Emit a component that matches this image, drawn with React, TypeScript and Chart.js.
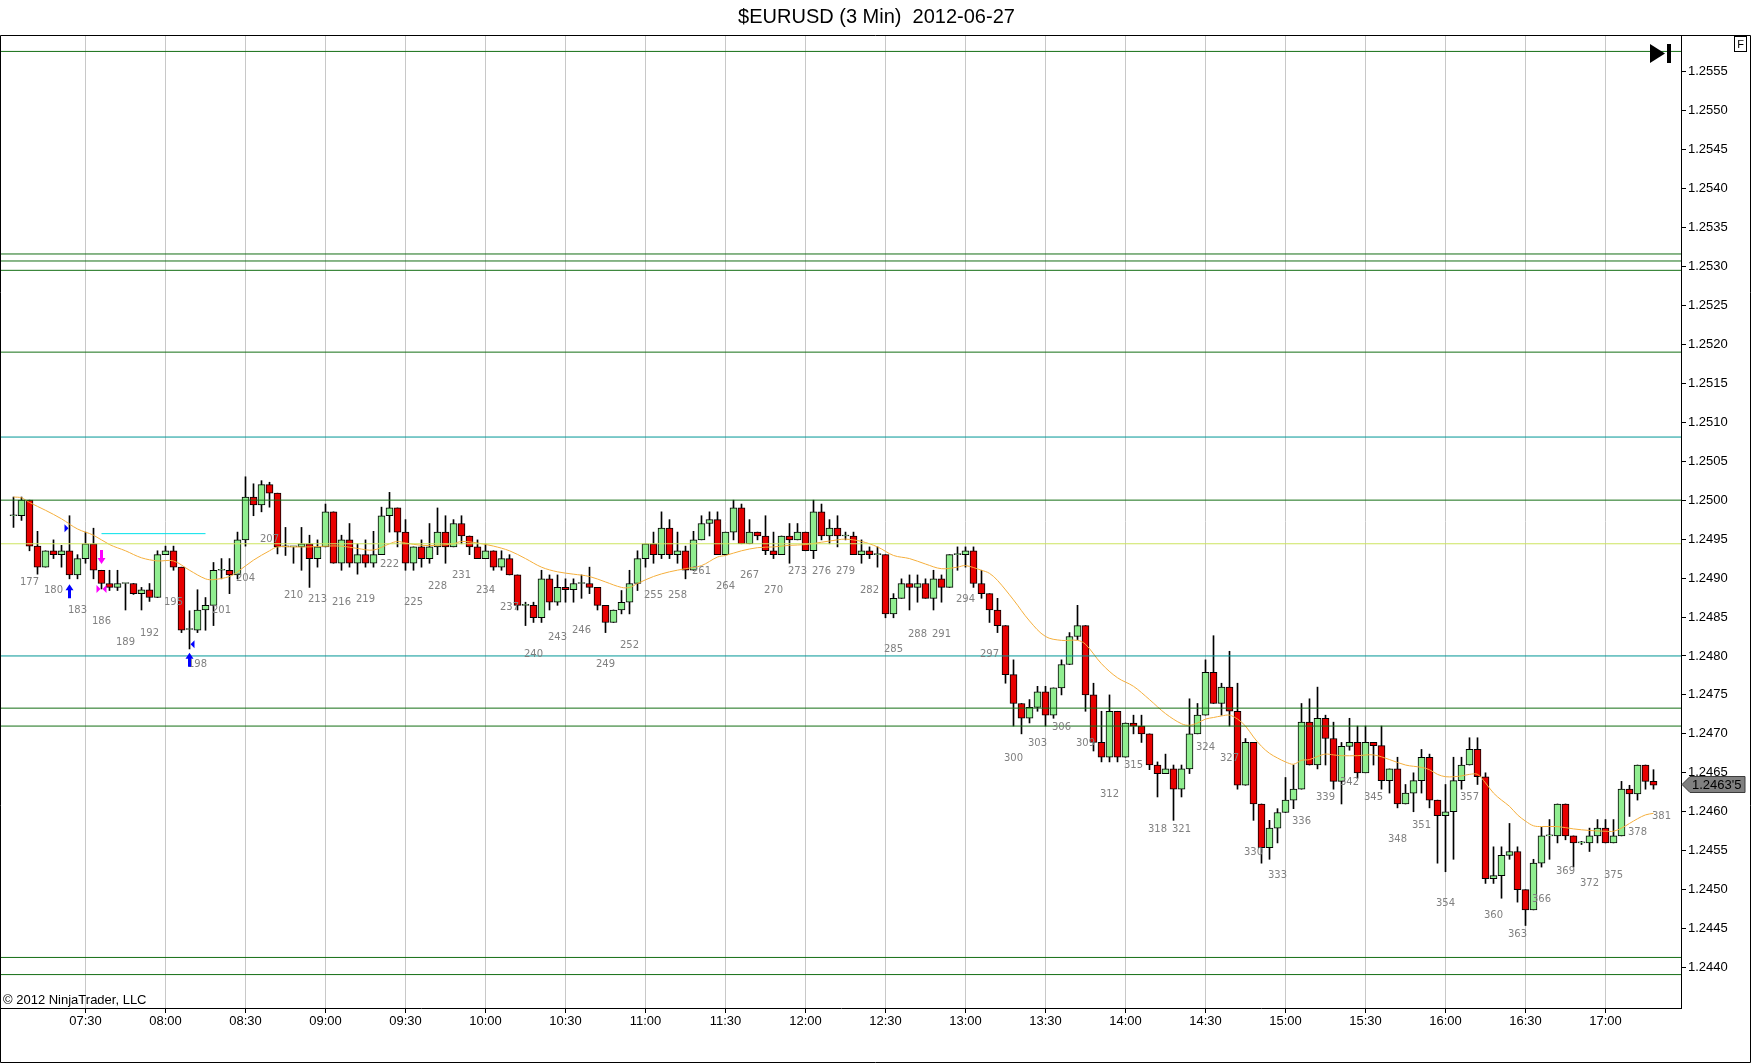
import React, { useEffect, useRef } from 'react';
import { Chart, registerables } from 'chart.js';

Chart.register(...registerables);

// ---------------- DATA ----------------
const FIRST_BAR = 175;

const opens = [
  1.2498, 1.2498, 1.25, 1.24941, 1.24914, 1.24935, 1.2493, 1.24935, 1.24904, 1.24925,
  1.24944, 1.2491, 1.24893, 1.24888, 1.24893, 1.24893, 1.2488, 1.24885, 1.24875, 1.2493,
  1.24935, 1.24914, 1.24834, 1.24833, 1.24859, 1.24865, 1.2491, 1.2491, 1.24904, 1.24949,
  1.25004, 1.24994, 1.2502, 1.25009, 1.2494, 1.2494, 1.2494, 1.24944, 1.24925, 1.2494,
  1.24985, 1.24919, 1.24949, 1.24919, 1.2493, 1.24919, 1.2493, 1.2498, 1.2499, 1.24959,
  1.24919, 1.2494, 1.24925, 1.2494, 1.24959, 1.2494, 1.2497, 1.24954, 1.2494, 1.24925,
  1.24935, 1.24914, 1.24925, 1.24904, 1.24865, 1.24865, 1.24849, 1.24899, 1.24869, 1.24888,
  1.24885, 1.24893, 1.24893, 1.24888, 1.24865, 1.24843, 1.24859, 1.24869, 1.24893, 1.24925,
  1.24944, 1.2493, 1.24964, 1.2493, 1.24935, 1.2491, 1.24949, 1.2497, 1.24975, 1.2493,
  1.24959, 1.2499, 1.24944, 1.24959, 1.24954, 1.24935, 1.2493, 1.24954, 1.24949, 1.24959,
  1.24935, 1.24985, 1.24954, 1.24964, 1.24954, 1.24954, 1.2493, 1.24935, 1.2493, 1.2493,
  1.24854, 1.24874, 1.24893, 1.24888, 1.24893, 1.24874, 1.24899, 1.24888, 1.2493, 1.2493,
  1.24935, 1.24893, 1.2488, 1.24859, 1.24839, 1.24776, 1.24739, 1.2472, 1.24734, 1.24754,
  1.24724, 1.24759, 1.24789, 1.24825, 1.24839, 1.2475, 1.24689, 1.2467, 1.24729, 1.2467,
  1.24714, 1.2471, 1.247, 1.2466, 1.24649, 1.24655, 1.24629, 1.24655, 1.247, 1.24724,
  1.24779, 1.24739, 1.2476, 1.24729, 1.24634, 1.24689, 1.2461, 1.24554, 1.24579, 1.24599,
  1.24615, 1.24629, 1.24715, 1.2466, 1.2472, 1.24694, 1.24639, 1.24684, 1.24689, 1.2465,
  1.24689, 1.24685, 1.2464, 1.24655, 1.2461, 1.24624, 1.2464, 1.2467, 1.24615, 1.24595,
  1.246, 1.2464, 1.2466, 1.2468, 1.24645, 1.24514, 1.24518, 1.24544, 1.24549, 1.245,
  1.24474, 1.24534, 1.24569, 1.24569, 1.2461, 1.24569, 1.2456, 1.2456, 1.24569, 1.24579,
  1.2456, 1.24569, 1.24629, 1.24623, 1.2466, 1.24639,
];
const highs = [
  1.25004, 1.25004, 1.25, 1.2496, 1.24935, 1.24949, 1.24942, 1.2498, 1.2493, 1.24959,
  1.24964, 1.2491, 1.2491, 1.2491, 1.24893, 1.24893, 1.24888, 1.24893, 1.24935, 1.24941,
  1.24941, 1.24914, 1.24858, 1.24885, 1.24875, 1.2492, 1.24925, 1.24925, 1.24959, 1.2503,
  1.25021, 1.25025, 1.25023, 1.25009, 1.24965, 1.2494, 1.24965, 1.24955, 1.24949, 1.24995,
  1.24985, 1.24955, 1.2497, 1.24944, 1.24949, 1.2496, 1.24991, 1.2501, 1.2499, 1.24975,
  1.2494, 1.24949, 1.2497, 1.2499, 1.2498, 1.24975, 1.2498, 1.24954, 1.24949, 1.24944,
  1.24935, 1.24935, 1.2493, 1.24904, 1.24869, 1.24869, 1.2491, 1.24904, 1.24904, 1.24899,
  1.24899, 1.24904, 1.24914, 1.24888, 1.24865, 1.24859, 1.24884, 1.2491, 1.24935, 1.24944,
  1.24959, 1.24985, 1.24975, 1.24959, 1.24941, 1.2496, 1.2498, 1.24985, 1.24985, 1.24959,
  1.25, 1.24995, 1.24975, 1.24959, 1.2498, 1.24959, 1.24954, 1.2497, 1.2497, 1.24959,
  1.25, 1.24995, 1.24975, 1.2498, 1.24959, 1.24959, 1.24949, 1.2494, 1.2494, 1.2493,
  1.2488, 1.24899, 1.24904, 1.24904, 1.24899, 1.2491, 1.24904, 1.2493, 1.2494, 1.2494,
  1.2494, 1.2491, 1.2488, 1.24874, 1.24839, 1.24795, 1.24739, 1.24744, 1.24761, 1.24761,
  1.24759, 1.24795, 1.2483, 1.24865, 1.24839, 1.24765, 1.24729, 1.2475, 1.24729, 1.24714,
  1.24724, 1.24724, 1.247, 1.24664, 1.24674, 1.2466, 1.2466, 1.24745, 1.24739, 1.24795,
  1.24826, 1.24765, 1.24806, 1.24765, 1.24694, 1.24689, 1.2461, 1.24589, 1.24604, 1.24644,
  1.2466, 1.24739, 1.24745, 1.2476, 1.24724, 1.24715, 1.24689, 1.2472, 1.2471, 1.2471,
  1.24689, 1.2471, 1.24655, 1.2467, 1.24635, 1.2465, 1.2468, 1.24674, 1.24615, 1.24635,
  1.2467, 1.2467, 1.24695, 1.24695, 1.2465, 1.24555, 1.24555, 1.24585, 1.24555, 1.245,
  1.24539, 1.2458, 1.2459, 1.2461, 1.2461, 1.24569, 1.24562, 1.24579, 1.2459, 1.2459,
  1.2459, 1.24639, 1.24634, 1.2466, 1.2466, 1.24654,
];
const lows = [
  1.24965, 1.24974, 1.24935, 1.24905, 1.24914, 1.24925, 1.24914, 1.24899, 1.24899, 1.24919,
  1.24899, 1.24886, 1.24884, 1.24884, 1.24859, 1.24879, 1.24859, 1.2487, 1.24875, 1.2493,
  1.2491, 1.2483, 1.24809, 1.2483, 1.24833, 1.24839, 1.24899, 1.2488, 1.24899, 1.24941,
  1.2498, 1.24985, 1.24991, 1.24931, 1.24929, 1.24919, 1.2491, 1.24888, 1.24914, 1.2494,
  1.24919, 1.2491, 1.24914, 1.24905, 1.24914, 1.24914, 1.2493, 1.24959, 1.2494, 1.2491,
  1.2491, 1.24914, 1.24919, 1.2493, 1.24919, 1.2494, 1.24944, 1.2493, 1.24925, 1.24925,
  1.2491, 1.2491, 1.24904, 1.24859, 1.24839, 1.24843, 1.24843, 1.24859, 1.24865, 1.24869,
  1.24869, 1.24874, 1.2488, 1.24859, 1.2483, 1.24843, 1.24854, 1.24854, 1.24884, 1.24914,
  1.24919, 1.24925, 1.24925, 1.24919, 1.24899, 1.2491, 1.24949, 1.24954, 1.2493, 1.2493,
  1.24949, 1.24944, 1.24944, 1.24949, 1.2493, 1.24925, 1.2493, 1.24919, 1.24949, 1.24935,
  1.24925, 1.24949, 1.24944, 1.2494, 1.24949, 1.2493, 1.24919, 1.24925, 1.24914, 1.24849,
  1.24849, 1.24874, 1.24859, 1.24869, 1.24874, 1.24859, 1.24869, 1.24888, 1.2491, 1.24914,
  1.24888, 1.24874, 1.24843, 1.2483, 1.24765, 1.2471, 1.247, 1.24714, 1.24729, 1.2471,
  1.2472, 1.2475, 1.24789, 1.24821, 1.24729, 1.24678, 1.24664, 1.24664, 1.24664, 1.2467,
  1.247, 1.24689, 1.24654, 1.24619, 1.24649, 1.24589, 1.24619, 1.24649, 1.247, 1.24724,
  1.24739, 1.24724, 1.2471, 1.24629, 1.24634, 1.24589, 1.24534, 1.24539, 1.2456, 1.24599,
  1.24604, 1.24629, 1.2466, 1.24655, 1.2466, 1.24629, 1.2461, 1.24679, 1.24643, 1.2465,
  1.2466, 1.24629, 1.24624, 1.24605, 1.2461, 1.246, 1.24624, 1.24605, 1.24534, 1.24523,
  1.24539, 1.24629, 1.2466, 1.24635, 1.24508, 1.24508, 1.24489, 1.24539, 1.24484, 1.24454,
  1.24474, 1.24529, 1.24539, 1.2456, 1.24564, 1.24529, 1.24558, 1.24549, 1.2456, 1.2456,
  1.2456, 1.24569, 1.24594, 1.24615, 1.24629, 1.24629,
];
const closes = [
  1.24981, 1.25, 1.24941, 1.24914, 1.24935, 1.2493, 1.24935, 1.24904, 1.24925, 1.24944,
  1.2491, 1.24893, 1.24888, 1.24893, 1.24893, 1.2488, 1.24885, 1.24875, 1.2493, 1.24935,
  1.24914, 1.24833, 1.24834, 1.24859, 1.24865, 1.2491, 1.2491, 1.24904, 1.24949, 1.25004,
  1.24994, 1.2502, 1.25009, 1.2494, 1.2494, 1.2494, 1.24944, 1.24925, 1.2494, 1.24985,
  1.24919, 1.24949, 1.24919, 1.2493, 1.24919, 1.2493, 1.2498, 1.2499, 1.24959, 1.24919,
  1.2494, 1.24925, 1.2494, 1.24959, 1.2494, 1.2497, 1.24954, 1.2494, 1.24925, 1.24935,
  1.24914, 1.24925, 1.24904, 1.24865, 1.24865, 1.24849, 1.24899, 1.24869, 1.24888, 1.24885,
  1.24893, 1.24893, 1.24888, 1.24865, 1.24843, 1.24859, 1.24869, 1.24893, 1.24925, 1.24944,
  1.2493, 1.24964, 1.2493, 1.24935, 1.2491, 1.24949, 1.2497, 1.24975, 1.2493, 1.24959,
  1.2499, 1.24944, 1.24959, 1.24954, 1.24935, 1.2493, 1.24954, 1.24949, 1.24959, 1.24935,
  1.24985, 1.24954, 1.24964, 1.24954, 1.24954, 1.2493, 1.24935, 1.2493, 1.2493, 1.24854,
  1.24874, 1.24893, 1.24888, 1.24893, 1.24874, 1.24899, 1.24888, 1.2493, 1.2493, 1.24935,
  1.24893, 1.2488, 1.24859, 1.24839, 1.24776, 1.24739, 1.2472, 1.24734, 1.24754, 1.24724,
  1.24759, 1.24789, 1.24825, 1.24839, 1.2475, 1.24689, 1.2467, 1.24729, 1.2467, 1.24714,
  1.2471, 1.247, 1.2466, 1.24649, 1.24655, 1.24629, 1.24655, 1.247, 1.24724, 1.24779,
  1.24739, 1.2476, 1.24729, 1.24634, 1.24689, 1.2461, 1.24554, 1.24579, 1.24599, 1.24615,
  1.24629, 1.24715, 1.2466, 1.2472, 1.24694, 1.24639, 1.24684, 1.24689, 1.2465, 1.24689,
  1.24685, 1.2464, 1.24655, 1.2461, 1.24624, 1.2464, 1.2467, 1.24615, 1.24595, 1.246,
  1.2464, 1.2466, 1.2468, 1.24645, 1.24514, 1.24518, 1.24544, 1.24549, 1.245, 1.24474,
  1.24534, 1.24569, 1.24569, 1.2461, 1.24569, 1.2456, 1.2456, 1.24569, 1.24579, 1.2456,
  1.24569, 1.24629, 1.24623, 1.2466, 1.24639, 1.24634,
];

const LAST_PRICE = 1.24635;
const LAST_PRICE_TEXT = "1.2463'5";
const LAST_LABEL_BAR = 381;

const timeBars = [184, 194, 204, 214, 224, 234, 244, 254, 264, 274, 284, 294, 304, 314, 324, 334, 344, 354, 364, 374];
const timeLabels = ['07:30', '08:00', '08:30', '09:00', '09:30', '10:00', '10:30', '11:00', '11:30', '12:00',
  '12:30', '13:00', '13:30', '14:00', '14:30', '15:00', '15:30', '16:00', '16:30', '17:00'];

const priceTicks = [1.244, 1.2445, 1.245, 1.2455, 1.246, 1.2465, 1.247, 1.2475, 1.248, 1.2485, 1.249, 1.2495,
  1.25, 1.2505, 1.251, 1.2515, 1.252, 1.2525, 1.253, 1.2535, 1.254, 1.2545, 1.255, 1.2555];

const greenLevels = [1.25576, 1.25316, 1.25307, 1.25295, 1.2519, 1.25, 1.24733, 1.2471, 1.24413, 1.24391];
const tealLevels = [1.25081, 1.248];
const yellowLevels = [1.24944];
const shortLineBars = [186, 199];
const shortLinePrice = 1.24957;

const maBars = [175, 176, 177, 179, 181, 183, 185, 187, 189, 191, 193, 195, 197, 199, 200, 202, 203, 205, 207, 208,
  210, 212, 214, 216, 218, 220, 222, 223, 224, 226, 228, 230, 231, 233, 235, 237, 239, 241, 243, 245,
  247, 249, 251, 252, 253, 255, 257, 259, 261, 263, 264, 266, 268, 270, 272, 274, 276, 278, 279, 281,
  283, 285, 287, 289, 291, 293, 294, 296, 297, 298, 300, 302, 304, 306, 308, 309, 311, 313, 315, 317,
  319, 321, 322, 323, 324, 325, 326, 327, 328, 329, 330, 331, 332, 333, 334, 335, 336, 337, 338, 339,
  340, 341, 343, 345, 347, 349, 351, 352, 353, 354, 355, 356, 357, 358, 359, 360, 361, 362, 363, 364,
  365, 366, 368, 370, 372, 374, 375, 376, 377, 378, 379, 380];
const maVals = [1.25004, 1.25003, 1.24997, 1.24987, 1.24976, 1.24963, 1.24955, 1.24943, 1.24935, 1.24926,
  1.24922, 1.24922, 1.2491, 1.24899, 1.24898, 1.24902, 1.24908, 1.24923, 1.24935, 1.2494,
  1.2494, 1.2494, 1.24941, 1.24941, 1.24938, 1.24936, 1.24944, 1.24947, 1.24945, 1.24942,
  1.24942, 1.24944, 1.24947, 1.24945, 1.24941, 1.24935, 1.24925, 1.24914, 1.24908, 1.24905,
  1.24902, 1.24895, 1.24888, 1.24888, 1.24893, 1.24902, 1.24908, 1.24912, 1.24916, 1.24927,
  1.24929, 1.24935, 1.24939, 1.2494, 1.24942, 1.24943, 1.24946, 1.24949, 1.2495, 1.24947,
  1.2494, 1.24929, 1.24925, 1.24918, 1.24912, 1.24914, 1.24916, 1.2491, 1.24906, 1.24897,
  1.24872, 1.24845, 1.24825, 1.2482, 1.2482, 1.24815, 1.2479, 1.24772, 1.24761, 1.24744,
  1.24726, 1.24713, 1.24711, 1.24714, 1.24719, 1.24721, 1.24723, 1.24724, 1.24719, 1.2471,
  1.24696, 1.24684, 1.24675, 1.24669, 1.24664, 1.24661, 1.24666, 1.24667, 1.24671, 1.24674,
  1.24673, 1.24672, 1.24672, 1.24673, 1.24667, 1.2466, 1.24657, 1.24654, 1.24648, 1.24645,
  1.24645, 1.24646, 1.24648, 1.24648, 1.24637, 1.24624, 1.24615, 1.24607, 1.24596, 1.24588,
  1.24582, 1.24581, 1.24581, 1.24578, 1.24576, 1.24575, 1.24575, 1.24579, 1.24585, 1.24591,
  1.24596, 1.24598];

// trade markers: bar, price, kind
const markerBars = [182, 182, 186, 186, 186, 197, 197];
const markerPrices = [1.24964, 1.24892, 1.24918, 1.24886, 1.24886, 1.24804, 1.24815];
const markerKinds = ['blueRight', 'blueUp', 'magentaDown', 'magentaRight', 'magentaLeft', 'blueUp', 'blueLeft'];

// ---------------- STYLE ----------------
const X_MIN = 173.4375;
const X_MAX = 383.4375;
const Y_MIN = 1.243481;
const Y_MAX = 1.255971;
const UP = 'rgb(144,238,144)';
const DOWN = 'rgb(232,0,0)';
const GREEN_LINE = 'rgb(20,110,20)';
const TEAL_LINE = 'rgb(0,150,150)';
const YELLOW_LINE = 'rgb(205,228,95)';
const MA_COLOR = 'rgb(245,175,60)';
const FONT = '"Liberation Sans", Arial, sans-serif';

function levelDataset(price: number, color: string) {
  return {
    type: 'line' as const,
    data: [{ x: X_MIN, y: price }, { x: X_MAX, y: price }],
    borderColor: color,
    borderWidth: 1,
    pointRadius: 0,
    order: 0,
  };
}

const overlayPlugin = {
  id: 'overlay',
  afterDatasetsDraw(chart: any) {
    const { ctx, scales } = chart;
    const xs = scales.x;
    const ys = scales.y;
    ctx.save();
    // bar numbers
    ctx.font = '10px "DejaVu Sans", Verdana, sans-serif';
    ctx.fillStyle = 'rgb(128,128,128)';
    ctx.textAlign = 'center';
    ctx.textBaseline = 'middle';
    for (let i = 0; i < lows.length; i++) {
      const n = FIRST_BAR + i;
      if (n % 3 !== 0) continue;
      ctx.fillText(String(n), xs.getPixelForValue(n), ys.getPixelForValue(lows[i]) + 32);
    }
    ctx.fillText(String(LAST_LABEL_BAR), xs.getPixelForValue(LAST_LABEL_BAR), ys.getPixelForValue(LAST_PRICE) + 32);

    // markers
    for (let i = 0; i < markerBars.length; i++) {
      const px = Math.round(xs.getPixelForValue(markerBars[i])) - 0.5;
      const py = ys.getPixelForValue(markerPrices[i]);
      const k = markerKinds[i];
      const blue = 'rgb(0,0,255)';
      const mag = 'rgb(255,0,255)';
      ctx.beginPath();
      if (k === 'blueUp') {
        ctx.fillStyle = blue;
        ctx.moveTo(px, py);
        ctx.lineTo(px + 4, py + 6);
        ctx.lineTo(px + 1.5, py + 6);
        ctx.lineTo(px + 1.5, py + 14);
        ctx.lineTo(px - 1.5, py + 14);
        ctx.lineTo(px - 1.5, py + 6);
        ctx.lineTo(px - 4, py + 6);
      } else if (k === 'magentaDown') {
        ctx.fillStyle = mag;
        ctx.moveTo(px, py);
        ctx.lineTo(px + 4, py - 6);
        ctx.lineTo(px + 1.5, py - 6);
        ctx.lineTo(px + 1.5, py - 14);
        ctx.lineTo(px - 1.5, py - 14);
        ctx.lineTo(px - 1.5, py - 6);
        ctx.lineTo(px - 4, py - 6);
      } else if (k === 'blueRight' || k === 'magentaRight') {
        ctx.fillStyle = k === 'blueRight' ? blue : mag;
        ctx.moveTo(px - 5, py - 4);
        ctx.lineTo(px - 5, py + 4);
        ctx.lineTo(px - 1, py);
      } else if (k === 'blueLeft' || k === 'magentaLeft') {
        ctx.fillStyle = k === 'blueLeft' ? blue : mag;
        ctx.moveTo(px + 5, py - 4);
        ctx.lineTo(px + 5, py + 4);
        ctx.lineTo(px + 1, py);
      }
      ctx.closePath();
      ctx.fill();
    }
    ctx.restore();
  },
  afterDraw(chart: any) {
    const { ctx, chartArea, scales } = chart;
    const ys = scales.y;
    const W = chart.width;
    const H = chart.height;
    ctx.save();
    ctx.strokeStyle = '#000';
    ctx.lineWidth = 1;
    // outer frame
    ctx.beginPath();
    ctx.moveTo(0.5, chartArea.top + 0.5);
    ctx.lineTo(W - 1.5, chartArea.top + 0.5);
    ctx.lineTo(W - 1.5, H - 1.5);
    ctx.lineTo(0.5, H - 1.5);
    ctx.closePath();
    ctx.stroke();

    // copyright
    ctx.fillStyle = '#000';
    ctx.font = '13px ' + FONT;
    ctx.textAlign = 'left';
    ctx.textBaseline = 'alphabetic';
    ctx.fillText('\u00a9 2012 NinjaTrader, LLC', 3, chartArea.bottom - 4);

    // end-of-chart icon
    const ix = chartArea.right - 31;
    const iy = chartArea.top + 9;
    ctx.beginPath();
    ctx.moveTo(ix, iy);
    ctx.lineTo(ix, iy + 19);
    ctx.lineTo(ix + 15, iy + 9.5);
    ctx.closePath();
    ctx.fill();
    ctx.fillRect(ix + 17, iy, 4, 19);

    // F box
    ctx.fillStyle = '#fff';
    ctx.fillRect(W - 17.5, chartArea.top + 1.5, 12, 15);
    ctx.strokeRect(W - 17.5, chartArea.top + 1.5, 12, 15);
    ctx.fillStyle = '#000';
    ctx.font = '11px ' + FONT;
    ctx.textAlign = 'center';
    ctx.textBaseline = 'middle';
    ctx.fillText('F', W - 11.5, chartArea.top + 9.5);

    // last price tag
    const py = Math.round(ys.getPixelForValue(LAST_PRICE)) + 0.5;
    const ax = chartArea.right + 1;
    ctx.beginPath();
    ctx.moveTo(ax, py);
    ctx.lineTo(ax + 8, py - 8);
    ctx.lineTo(ax + 63, py - 8);
    ctx.lineTo(ax + 63, py + 8);
    ctx.lineTo(ax + 8, py + 8);
    ctx.closePath();
    ctx.fillStyle = 'rgb(128,128,128)';
    ctx.fill();
    ctx.strokeStyle = 'rgb(60,60,60)';
    ctx.stroke();
    ctx.fillStyle = '#000';
    ctx.font = '13px ' + FONT;
    ctx.textAlign = 'left';
    ctx.textBaseline = 'middle';
    ctx.fillText(LAST_PRICE_TEXT, ax + 10, py + 1);
    ctx.restore();
  },
};

export default function App() {
  const ref = useRef<HTMLCanvasElement | null>(null);

  useEffect(() => {
    document.body.style.margin = '0';
    const canvas = ref.current;
    if (!canvas) return;
    const barNums = opens.map((_, i) => FIRST_BAR + i);

    const datasets: any[] = [
      ...greenLevels.map((p) => levelDataset(p, GREEN_LINE)),
      ...tealLevels.map((p) => levelDataset(p, TEAL_LINE)),
      ...yellowLevels.map((p) => levelDataset(p, YELLOW_LINE)),
      {
        type: 'line',
        data: shortLineBars.map((b) => ({ x: b, y: shortLinePrice })),
        borderColor: 'rgb(0,225,235)',
        borderWidth: 1,
        pointRadius: 0,
        order: 0,
      },
      {
        type: 'line',
        data: maBars.map((b, i) => ({ x: b, y: maVals[i] })),
        borderColor: MA_COLOR,
        borderWidth: 1,
        pointRadius: 0,
        tension: 0.35,
        order: 0,
      },
      {
        type: 'bar',
        data: barNums.map((n, i) => ({ x: n, y: [opens[i], closes[i]] })),
        backgroundColor: barNums.map((_, i) => (closes[i] >= opens[i] ? UP : DOWN)),
        borderColor: '#000',
        borderWidth: 1,
        borderSkipped: false,
        barThickness: 7,
        minBarLength: 1,
        grouped: false,
        order: 1,
      },
      {
        type: 'bar',
        data: barNums.map((n, i) => ({ x: n, y: [lows[i], highs[i]] })),
        backgroundColor: '#000',
        borderWidth: 0,
        barThickness: 1,
        grouped: false,
        order: 2,
      },
    ];

    const chart = new Chart(canvas, {
      type: 'bar',
      data: { datasets },
      options: {
        animation: false,
        responsive: false,
        devicePixelRatio: 1,
        events: [],
        layout: { padding: { left: 1, right: 0, top: 0, bottom: 0 } },
        plugins: {
          legend: { display: false },
          tooltip: { enabled: false },
          title: {
            display: true,
            text: '$EURUSD (3 Min)  2012-06-27',
            color: '#000',
            font: { family: FONT, size: 20, weight: 'normal' },
            padding: { top: 5, bottom: 6 },
          },
        },
        scales: {
          x: {
            type: 'linear',
            position: 'bottom',
            offset: false,
            min: X_MIN,
            max: X_MAX,
            afterBuildTicks: (s: any) => {
              s.ticks = timeBars.map((v) => ({ value: v }));
            },
            afterFit: (s: any) => {
              s.height = 56;
            },
            ticks: {
              autoSkip: false,
              maxRotation: 0,
              padding: 1,
              color: '#000',
              font: { family: FONT, size: 13 },
              callback: (v: any) => {
                const idx = timeBars.indexOf(Number(v));
                return idx >= 0 ? timeLabels[idx] : '';
              },
            },
            grid: {
              offset: false,
              color: 'rgb(200,200,200)',
              tickColor: '#000',
              tickLength: 5,
              drawTicks: true,
            },
            border: { display: true, color: '#000', width: 1 },
          },
          y: {
            type: 'linear',
            position: 'right',
            min: Y_MIN,
            max: Y_MAX,
            afterBuildTicks: (s: any) => {
              s.ticks = priceTicks.map((v) => ({ value: v }));
            },
            afterFit: (s: any) => {
              s.width = 71;
            },
            ticks: {
              padding: 2,
              color: '#000',
              font: { family: FONT, size: 13 },
              callback: (v: any) => Number(v).toFixed(4),
            },
            grid: {
              drawOnChartArea: false,
              drawTicks: true,
              tickLength: 5,
              color: '#000',
            },
            border: { display: true, color: '#000', width: 1 },
          },
        },
      } as any,
      plugins: [overlayPlugin],
    });
    return () => chart.destroy();
  }, []);

  return (
    <div style={{ width: 1752, height: 1064, background: '#fff' }}>
      <canvas ref={ref} width={1752} height={1064} style={{ display: 'block' }} />
    </div>
  );
}
